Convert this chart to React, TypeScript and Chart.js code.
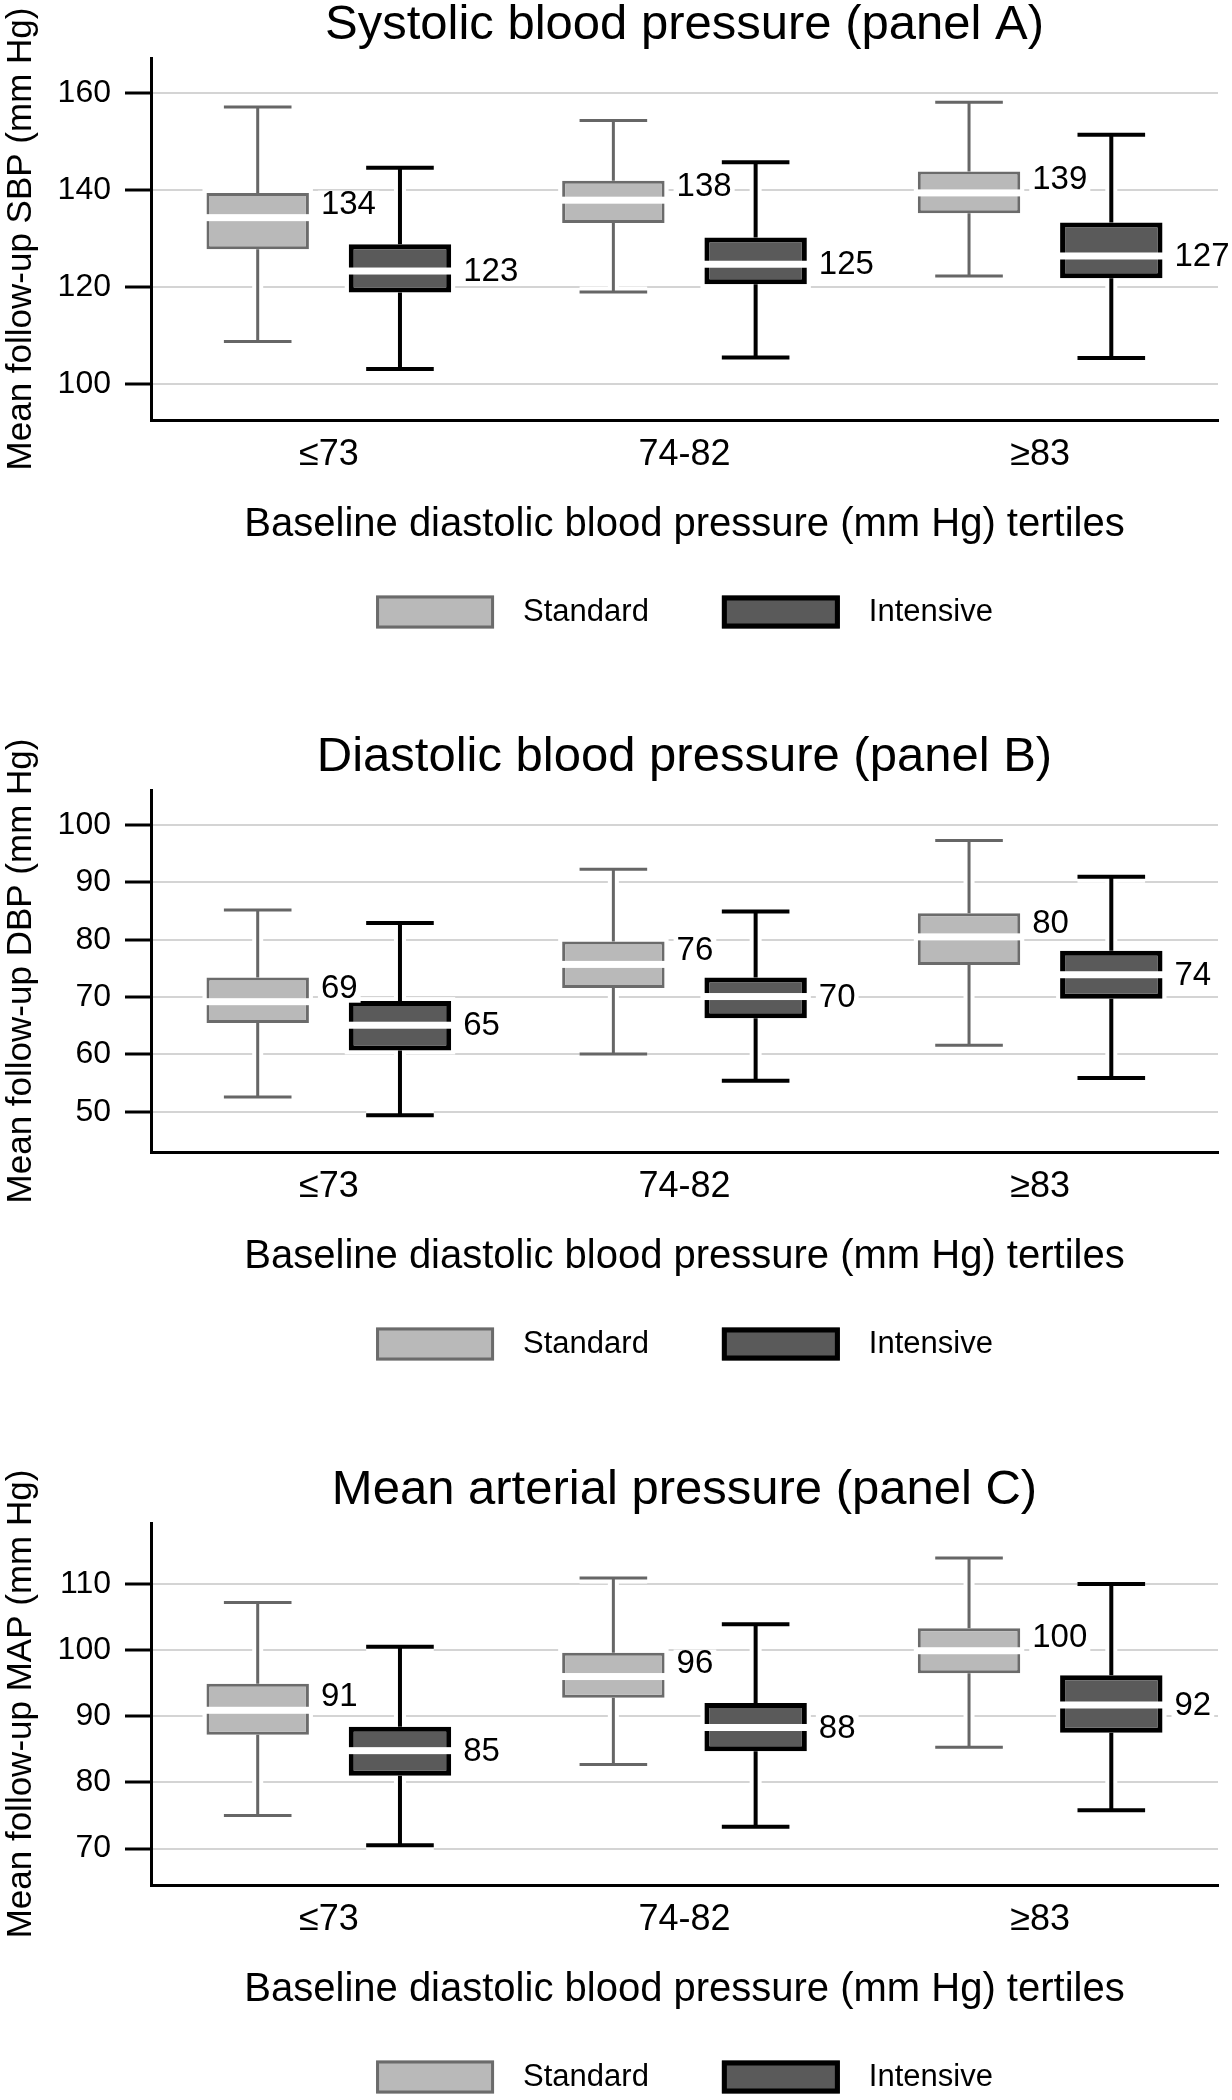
import React, { useEffect, useRef } from 'react';
import { Chart, registerables } from 'chart.js';

Chart.register(...registerables);

// ---------- data ----------
const CATEGORIES = ['≤73', '74-82', '≥83'];
const SERIES = ['Standard', 'Intensive'];
const X_TITLE = 'Baseline diastolic blood pressure (mm Hg) tertiles';

// Panel A: systolic
const A_TITLE = 'Systolic blood pressure (panel A)';
const A_Y_TITLE = 'Mean follow-up SBP (mm Hg)';
const A_TICKS = [100, 120, 140, 160];
const A_RANGE = [92.6, 167.2];
const A_STD_LO = [108.8, 119.0, 122.3];
const A_STD_Q1 = [127.8, 133.2, 135.2];
const A_STD_MED = [134.3, 137.9, 139.4];
const A_STD_Q3 = [139.4, 141.9, 143.8];
const A_STD_HI = [157.1, 154.3, 158.1];
const A_STD_LABELS = [134, 138, 139];
const A_INT_LO = [103.1, 105.5, 105.4];
const A_INT_Q1 = [118.9, 120.6, 121.8];
const A_INT_MED = [123.3, 124.7, 126.4];
const A_INT_Q3 = [128.8, 130.2, 133.3];
const A_INT_HI = [144.6, 145.7, 151.4];
const A_INT_LABELS = [123, 125, 127];

// Panel B: diastolic
const B_TITLE = 'Diastolic blood pressure (panel B)';
const B_Y_TITLE = 'Mean follow-up DBP (mm Hg)';
const B_TICKS = [50, 60, 70, 80, 90, 100];
const B_RANGE = [43.0, 106.1];
const B_STD_LO = [52.6, 60.1, 61.6];
const B_STD_Q1 = [65.5, 71.6, 75.6];
const B_STD_MED = [69.2, 75.7, 80.5];
const B_STD_Q3 = [73.4, 79.7, 84.6];
const B_STD_HI = [85.2, 92.3, 97.3];
const B_STD_LABELS = [69, 76, 80];
const B_INT_LO = [49.4, 55.4, 55.9];
const B_INT_Q1 = [60.7, 66.3, 69.7];
const B_INT_MED = [65.1, 70.1, 73.9];
const B_INT_Q3 = [69.3, 73.4, 78.1];
const B_INT_HI = [82.9, 84.9, 91.0];
const B_INT_LABELS = [65, 70, 74];

// Panel C: mean arterial
const C_TITLE = 'Mean arterial pressure (panel C)';
const C_Y_TITLE = 'Mean follow-up MAP (mm Hg)';
const C_TICKS = [70, 80, 90, 100, 110];
const C_RANGE = [64.5, 119.2];
const C_STD_LO = [75.0, 82.7, 85.3];
const C_STD_Q1 = [87.2, 92.8, 96.5];
const C_STD_MED = [90.9, 96.0, 99.9];
const C_STD_Q3 = [94.9, 99.6, 103.3];
const C_STD_HI = [107.2, 110.9, 113.9];
const C_STD_LABELS = [91, 96, 100];
const C_INT_LO = [70.5, 73.3, 75.8];
const C_INT_Q1 = [81.0, 84.7, 87.5];
const C_INT_MED = [84.8, 88.3, 91.7];
const C_INT_Q3 = [88.4, 92.0, 96.2];
const C_INT_HI = [100.5, 103.9, 110.0];
const C_INT_LABELS = [85, 88, 92];

// ---------- styles ----------
const FONT = '"Liberation Sans", Arial, Helvetica, sans-serif';
const STYLE: Record<string, any> = {
  Standard: { fill: '#b9b9b9', border: '#6b6b6b', borderWidth: 3, whisker: '#666666', whiskerWidth: 3, labelOffset: -13 },
  Intensive: { fill: '#5a5a5a', border: '#000000', borderWidth: 5, whisker: '#000000', whiskerWidth: 4, labelOffset: 1 },
};
const PLOT_TOP = 58;
const PLOT_BOTTOM = 420;

type Box = { lo: number[]; q1: number[]; med: number[]; q3: number[]; hi: number[]; labels: number[] };

const boxPlugin = {
  id: 'boxExtras',
  beforeDatasetsDraw(chart: any) {
    const ctx = chart.ctx;
    const y = chart.scales.y;
    chart.data.datasets.forEach((ds: any, di: number) => {
      const meta = chart.getDatasetMeta(di);
      const st = STYLE[ds.label];
      const b: Box = ds.box;
      meta.data.forEach((bar: any, i: number) => {
        const { x, width } = bar.getProps(['x', 'width'], true);
        const yHi = y.getPixelForValue(b.hi[i]);
        const yLo = y.getPixelForValue(b.lo[i]);
        const yQ3 = y.getPixelForValue(b.q3[i]);
        const yQ1 = y.getPixelForValue(b.q1[i]);
        const cap = width * 0.66;
        const path = () => {
          ctx.beginPath();
          ctx.moveTo(x, yHi);
          ctx.lineTo(x, yQ3);
          ctx.moveTo(x, yQ1);
          ctx.lineTo(x, yLo);
          ctx.moveTo(x - cap / 2, yHi);
          ctx.lineTo(x + cap / 2, yHi);
          ctx.moveTo(x - cap / 2, yLo);
          ctx.lineTo(x + cap / 2, yLo);
        };
        ctx.save();
        ctx.lineCap = 'butt';
        path();
        ctx.strokeStyle = '#ffffff';
        ctx.lineWidth = st.whiskerWidth + 8;
        ctx.stroke();
        ctx.fillStyle = '#ffffff';
        ctx.fillRect(x - width / 2 - 4, yQ3 - 4, width + 8, yQ1 - yQ3 + 8);
        path();
        ctx.strokeStyle = st.whisker;
        ctx.lineWidth = st.whiskerWidth;
        ctx.stroke();
        ctx.restore();
      });
    });
  },
  afterDatasetsDraw(chart: any) {
    const ctx = chart.ctx;
    const y = chart.scales.y;
    chart.data.datasets.forEach((ds: any, di: number) => {
      const meta = chart.getDatasetMeta(di);
      const st = STYLE[ds.label];
      const b: Box = ds.box;
      meta.data.forEach((bar: any, i: number) => {
        const { x, width } = bar.getProps(['x', 'width'], true);
        const yMed = y.getPixelForValue(b.med[i]);
        ctx.save();
        ctx.fillStyle = '#ffffff';
        ctx.fillRect(x - width / 2 - 1, yMed - 3.5, width + 2, 7);
        const text = String(b.labels[i]);
        ctx.font = `33px ${FONT}`;
        ctx.textAlign = 'left';
        ctx.textBaseline = 'middle';
        const tx = x + width / 2 + 12;
        const ty = yMed + st.labelOffset;
        const tw = ctx.measureText(text).width;
        ctx.fillRect(tx - 3, ty - 14, tw + 6, 28);
        ctx.fillStyle = '#000000';
        ctx.fillText(text, tx, ty);
        ctx.restore();
      });
    });
  },
};

function makeDecorPlugin(title: string) {
  return {
    id: 'panelDecor',
    afterDraw(chart: any) {
      const ctx = chart.ctx;
      const area = chart.chartArea;
      const cx = (area.left + area.right) / 2;
      ctx.save();
      // title
      ctx.fillStyle = '#000000';
      ctx.font = `49px ${FONT}`;
      ctx.textAlign = 'center';
      ctx.textBaseline = 'middle';
      ctx.fillText(title, cx, area.top - 33);
      // legend
      const boxW = 118;
      const boxH = 33;
      const gapText = 29;
      const gapItem = 73;
      ctx.font = `31px ${FONT}`;
      const items = chart.data.datasets.map((ds: any) => ({ label: ds.label, w: ctx.measureText(ds.label).width }));
      const total = items.reduce((s: number, it: any) => s + boxW + gapText + it.w, 0) + gapItem * (items.length - 1);
      let x = cx - total / 2;
      const ly = area.top + 554;
      items.forEach((it: any) => {
        const st = STYLE[it.label];
        ctx.fillStyle = st.fill;
        ctx.fillRect(x, ly - boxH / 2, boxW, boxH);
        ctx.strokeStyle = st.border;
        ctx.lineWidth = st.borderWidth;
        ctx.strokeRect(x + st.borderWidth / 2, ly - boxH / 2 + st.borderWidth / 2, boxW - st.borderWidth, boxH - st.borderWidth);
        ctx.fillStyle = '#000000';
        ctx.textAlign = 'left';
        ctx.textBaseline = 'middle';
        ctx.fillText(it.label, x + boxW + gapText, ly);
        x += boxW + gapText + it.w + gapItem;
      });
      ctx.restore();
    },
  };
}

type PanelProps = {
  title: string;
  yTitle: string;
  ticks: number[];
  range: number[];
  std: Box;
  int: Box;
  height: number;
};

function Panel({ title, yTitle, ticks, range, std, int, height }: PanelProps) {
  const ref = useRef<HTMLCanvasElement>(null);
  useEffect(() => {
    const canvas = ref.current;
    if (!canvas) return;
    const boxes: Record<string, Box> = { Standard: std, Intensive: int };
    const datasets = SERIES.map((name) => ({
      label: name,
      data: CATEGORIES.map((_, i) => [boxes[name].q1[i], boxes[name].q3[i]]),
      backgroundColor: STYLE[name].fill,
      borderColor: STYLE[name].border,
      borderWidth: STYLE[name].borderWidth,
      borderSkipped: false,
      categoryPercentage: 0.8,
      barPercentage: 0.72,
      box: boxes[name],
    }));
    const xTitleSize = 40;
    const xTickSize = 36;
    const chart = new Chart(canvas, {
      type: 'bar',
      data: { labels: CATEGORIES, datasets: datasets as any },
      options: {
        responsive: false,
        animation: false,
        events: [],
        layout: { padding: { top: PLOT_TOP, right: 14, bottom: 0, left: 0 }, autoPadding: false } as any,
        plugins: {
          legend: { display: false },
          tooltip: { enabled: false },
          title: { display: false },
        },
        scales: {
          x: {
            type: 'category',
            grid: { display: false, drawTicks: false },
            border: { display: true, color: '#000000', width: 3 },
            ticks: { color: '#000000', font: { family: FONT, size: xTickSize, lineHeight: 1.2 }, padding: 455 - PLOT_BOTTOM - (xTickSize * 1.2) / 2 },
            title: {
              display: true,
              text: X_TITLE,
              color: '#000000',
              font: { family: FONT, size: xTitleSize, lineHeight: 1.2 },
              padding: { top: 0, bottom: height - 525 - (xTitleSize * 1.2) / 2 },
            },
            afterFit: (s: any) => {
              s.height = height - PLOT_BOTTOM;
            },
          },
          y: {
            type: 'linear',
            min: range[0],
            max: range[1],
            afterBuildTicks: (s: any) => {
              s.ticks = ticks.map((v) => ({ value: v }));
            },
            grid: { color: '#d4d4d4', lineWidth: 2, tickLength: 26, tickColor: '#000000', tickWidth: 3 } as any,
            border: { display: true, color: '#000000', width: 3 },
            ticks: { color: '#000000', font: { family: FONT, size: 32 }, padding: 14 },
            title: {
              display: true,
              text: yTitle,
              color: '#000000',
              font: { family: FONT, size: 35, lineHeight: 1.2 },
              padding: { top: 0, bottom: 0 },
            },
            afterFit: (s: any) => {
              s.width = 151;
            },
          },
        },
      } as any,
      plugins: [boxPlugin, makeDecorPlugin(title)] as any,
    });
    return () => chart.destroy();
  }, []);
  return <canvas ref={ref} width={1232} height={height} style={{ display: 'block', width: 1232, height }} />;
}

const A_STD: Box = { lo: A_STD_LO, q1: A_STD_Q1, med: A_STD_MED, q3: A_STD_Q3, hi: A_STD_HI, labels: A_STD_LABELS };
const A_INT: Box = { lo: A_INT_LO, q1: A_INT_Q1, med: A_INT_MED, q3: A_INT_Q3, hi: A_INT_HI, labels: A_INT_LABELS };
const B_STD: Box = { lo: B_STD_LO, q1: B_STD_Q1, med: B_STD_MED, q3: B_STD_Q3, hi: B_STD_HI, labels: B_STD_LABELS };
const B_INT: Box = { lo: B_INT_LO, q1: B_INT_Q1, med: B_INT_MED, q3: B_INT_Q3, hi: B_INT_HI, labels: B_INT_LABELS };
const C_STD: Box = { lo: C_STD_LO, q1: C_STD_Q1, med: C_STD_MED, q3: C_STD_Q3, hi: C_STD_HI, labels: C_STD_LABELS };
const C_INT: Box = { lo: C_INT_LO, q1: C_INT_Q1, med: C_INT_MED, q3: C_INT_Q3, hi: C_INT_HI, labels: C_INT_LABELS };

export default function App() {
  return (
    <div style={{ position: 'absolute', left: 0, top: 0, width: 1232, height: 2100, overflow: 'hidden', background: '#ffffff' }}>
      <Panel title={A_TITLE} yTitle={A_Y_TITLE} ticks={A_TICKS} range={A_RANGE} std={A_STD} int={A_INT} height={732} />
      <Panel title={B_TITLE} yTitle={B_Y_TITLE} ticks={B_TICKS} range={B_RANGE} std={B_STD} int={B_INT} height={733} />
      <Panel title={C_TITLE} yTitle={C_Y_TITLE} ticks={C_TICKS} range={C_RANGE} std={C_STD} int={C_INT} height={635} />
    </div>
  );
}
